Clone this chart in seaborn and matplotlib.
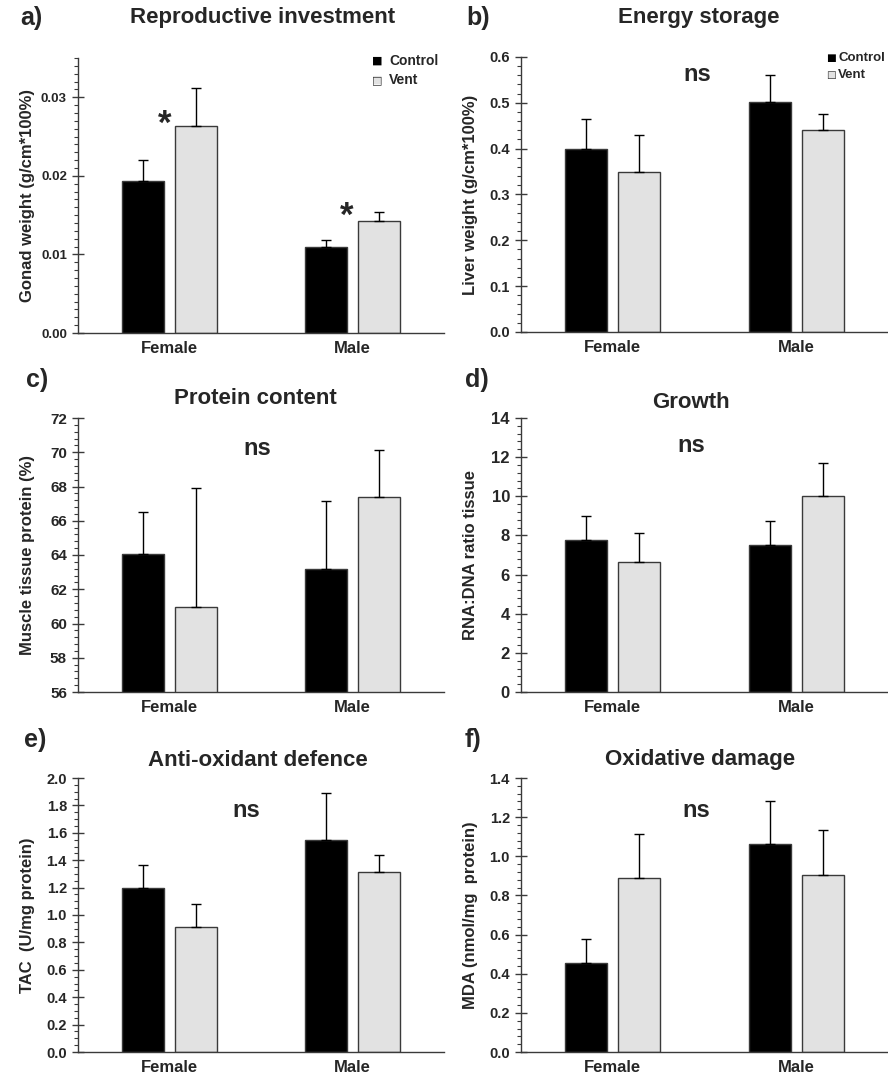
import numpy as np
import pandas as pd
import matplotlib
matplotlib.use("Agg")
import matplotlib.pyplot as plt
from matplotlib.ticker import MultipleLocator, AutoMinorLocator, FormatStrFormatter
import seaborn as sns

sns.set_style("ticks")
plt.rcParams['font.family'] = ['Liberation Sans', 'DejaVu Sans']
plt.rcParams['font.weight'] = 'bold'

sexes = ["Female", "Male"]
groups = ["Control", "Vent"]

# means and top of error bar (mean + SE)
gonad_ctrl = [0.0194, 0.0109]
gonad_ctrl_top = [0.0220, 0.0119]
gonad_vent = [0.0263, 0.0143]
gonad_vent_top = [0.0312, 0.0154]

liver_ctrl = [0.399, 0.501]
liver_ctrl_top = [0.464, 0.560]
liver_vent = [0.350, 0.440]
liver_vent_top = [0.430, 0.475]

protein_ctrl = [64.08, 63.16]
protein_ctrl_top = [66.52, 67.14]
protein_vent = [60.96, 67.38]
protein_vent_top = [67.92, 70.11]

rna_ctrl = [7.77, 7.53]
rna_ctrl_top = [8.97, 8.73]
rna_vent = [6.63, 9.99]
rna_vent_top = [8.11, 11.72]

tac_ctrl = [1.200, 1.544]
tac_ctrl_top = [1.363, 1.890]
tac_vent = [0.915, 1.312]
tac_vent_top = [1.080, 1.439]

mda_ctrl = [0.456, 1.064]
mda_ctrl_top = [0.576, 1.281]
mda_vent = [0.888, 0.902]
mda_vent_top = [1.115, 1.136]

panels = [
    # letter, title, ylabel, ctrl, ctrl_top, vent, vent_top, ylim, major, minor_div, fmt, ns, ticksize
    ("a)", "Reproductive investment", "Gonad weight (g/cm*100%)",
     gonad_ctrl, gonad_ctrl_top, gonad_vent, gonad_vent_top, (0, 0.035), 0.01, 10, "%.2f", False, 9.5),
    ("b)", "Energy storage", "Liver weight (g/cm*100%)",
     liver_ctrl, liver_ctrl_top, liver_vent, liver_vent_top, (0, 0.6), 0.1, 5, "%.1f", True, 10.5),
    ("c)", "Protein content", "Muscle tissue protein (%)",
     protein_ctrl, protein_ctrl_top, protein_vent, protein_vent_top, (56, 72), 2, 5, "%d", True, 11),
    ("d)", "Growth", "RNA:DNA ratio tissue",
     rna_ctrl, rna_ctrl_top, rna_vent, rna_vent_top, (0, 14), 2, 5, "%d", True, 12),
    ("e)", "Anti-oxidant defence", "TAC  (U/mg protein)",
     tac_ctrl, tac_ctrl_top, tac_vent, tac_vent_top, (0, 2.0), 0.2, 4, "%.1f", True, 10.5),
    ("f)", "Oxidative damage", "MDA (nmol/mg  protein)",
     mda_ctrl, mda_ctrl_top, mda_vent, mda_vent_top, (0, 1.4), 0.2, 5, "%.1f", True, 10.5),
]

W, H = 888, 1080
fig = plt.figure(figsize=(W / 100, H / 100), dpi=100)

# axes boxes in pixels: left, top, right, bottom
boxes = [(78, 58, 444, 333), (521, 57, 888, 332),
         (78, 418, 444, 692), (521, 418, 888, 692),
         (78, 778, 444, 1052), (521, 778, 888, 1052)]
title_pos = [(263, 18), (699, 18), (255, 399), (691, 402), (258, 760), (700, 760)]
letter_pos = [(20, 18), (466, 18), (26, 380), (465, 380), (24, 740), (465, 740)]
ns_pos = [None, (0.48, 0.935), (0.49, 0.89), (0.463, 0.90), (0.46, 0.883), (0.477, 0.883)]

palette = {"Control": "#000000", "Vent": "#e2e2e2"}
edge = "#3a3a3a"

for i, p in enumerate(panels):
    letter, title, ylabel, c, ct, v, vt, ylim, major, mdiv, fmt, ns, tsize = p
    l, t, r, b = boxes[i]
    ax = fig.add_axes([l / W, 1 - b / H, (r - l) / W, (b - t) / H])

    df = pd.DataFrame({
        "sex": sexes * 2,
        "group": ["Control"] * 2 + ["Vent"] * 2,
        "value": c + v,
    })
    sns.barplot(data=df, x="sex", y="value", hue="group", order=sexes,
                hue_order=groups, palette=palette, errorbar=None,
                width=0.58, gap=0.21, edgecolor=edge, linewidth=1.0,
                legend=False, ax=ax)

    tops = [ct, vt]
    means = [c, v]
    bar_conts = list(ax.containers)
    for k, cont in enumerate(bar_conts):
        for j, bar in enumerate(cont):
            x = bar.get_x() + bar.get_width() / 2
            ax.errorbar(x, means[k][j], yerr=[[0], [tops[k][j] - means[k][j]]],
                        color="black", lw=1.0, capsize=3.5, capthick=1.0,
                        zorder=1)

    ax.set_xlim(-0.5, 1.5)
    ax.set_ylim(*ylim)
    ax.yaxis.set_major_locator(MultipleLocator(major))
    ax.yaxis.set_minor_locator(AutoMinorLocator(mdiv))
    ax.yaxis.set_major_formatter(FormatStrFormatter(fmt))
    ax.tick_params(axis="y", which="major", direction="inout", length=8,
                   width=1, color=edge, labelsize=tsize, pad=4)
    ax.tick_params(axis="y", which="minor", direction="out", length=3,
                   width=0.8, color=edge)
    ax.tick_params(axis="x", length=0, labelsize=12, pad=6)
    for lab in ax.get_xticklabels() + ax.get_yticklabels():
        lab.set_fontweight("bold")
    ax.set_xlabel("")
    ax.set_ylabel(ylabel, fontsize=12, fontweight="bold")
    ax.yaxis.set_label_coords(-0.118, 0.5)
    sns.despine(ax=ax)
    for s in ["left", "bottom"]:
        ax.spines[s].set_color(edge)
        ax.spines[s].set_linewidth(1.0)

    if ns:
        ax.text(ns_pos[i][0], ns_pos[i][1], "ns", transform=ax.transAxes,
                ha="center", va="center", fontsize=17, fontweight="bold")

    fig.text(title_pos[i][0] / W, 1 - title_pos[i][1] / H, title,
             ha="center", va="center", fontsize=16, fontweight="bold")
    fig.text(letter_pos[i][0] / W, 1 - letter_pos[i][1] / H, letter,
             ha="left", va="center", fontsize=18, fontweight="bold")

    if i == 0:
        ax.text(-0.027, 0.0265, "*", ha="center", va="center",
                fontsize=25, fontweight="bold")
        ax.text(0.967, 0.0148, "*", ha="center", va="center",
                fontsize=25, fontweight="bold")

# small legends in the top right of panels a and b
# x of square, y of first row, row step, text offset, text size, square size
legend_pos = [(372, 61, 19, 17, 10, 8), (826, 58, 17, 12, 9.5, 7.5)]
for (lx, ly, dy, dx, fs, ss) in legend_pos:
    for k, g in enumerate(groups):
        yy = 1 - (ly + k * dy) / H
        if g == "Control":
            fig.text(lx / W, yy, "\u25A0", ha="left", va="center", fontsize=ss,
                     color="black", family=["DejaVu Sans"])
        else:
            fig.text(lx / W, yy, "\u25A0", ha="left", va="center", fontsize=ss,
                     color=palette["Vent"], family=["DejaVu Sans"])
            fig.text(lx / W, yy, "\u25A1", ha="left", va="center", fontsize=ss,
                     color=edge, family=["DejaVu Sans"])
        fig.text((lx + dx) / W, yy, g, ha="left", va="center",
                 fontsize=fs, fontweight="bold")

fig.savefig("out.png", dpi=100)
